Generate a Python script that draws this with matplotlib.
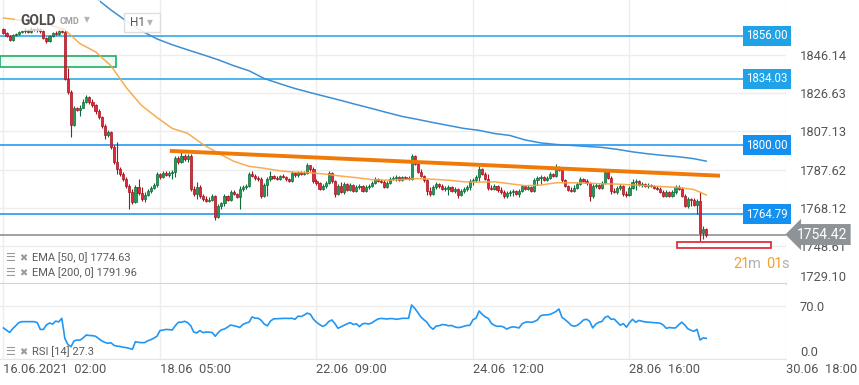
import numpy as np
import matplotlib
matplotlib.use('Agg')
import matplotlib.pyplot as plt
from matplotlib.patches import Rectangle

plt.rcParams['font.family'] = ['Roboto', 'DejaVu Sans']

# hourly GOLD candles, 16.06 02:00 -> 29.06
first_open = 1859.6
closes = [
    1857.6, 1856.1, 1854.0, 1856.6, 1857.1, 1858.1, 1858.6, 1859.1, 1858.1, 1859.6,
    1859.1, 1859.6, 1858.6, 1855.1, 1853.5, 1856.1, 1857.6, 1857.1, 1858.6, 1858.1,
    1834.2, 1827.5, 1810.7, 1819.4, 1817.9, 1819.4, 1822.4, 1825.0, 1822.4, 1820.9,
    1817.4, 1814.3, 1809.7, 1805.1, 1806.7, 1799.0, 1791.4, 1787.8, 1785.3, 1782.7,
    1779.1, 1776.1, 1771.0, 1778.6, 1775.6, 1772.5, 1774.6, 1776.6, 1778.1, 1779.7,
    1785.3, 1783.7, 1785.8, 1784.8, 1785.8, 1786.3, 1793.4, 1791.4, 1794.4, 1792.9,
    1794.4, 1777.6, 1775.1, 1778.6, 1774.1, 1772.5, 1771.5, 1772.0, 1774.1, 1763.4,
    1769.0, 1770.5, 1774.1, 1772.0, 1776.1, 1775.1, 1773.5, 1777.6, 1778.6, 1779.1,
    1785.3, 1784.3, 1783.2, 1782.7, 1774.1, 1779.7, 1782.7, 1784.3, 1783.2, 1782.7,
    1784.3, 1783.7, 1782.7, 1781.7, 1785.8, 1784.8, 1786.3, 1785.3, 1785.8, 1789.8,
    1787.8, 1781.7, 1780.7, 1777.6, 1779.1, 1780.7, 1785.8, 1781.7, 1775.1, 1779.1,
    1776.1, 1780.2, 1777.1, 1779.7, 1776.6, 1778.6, 1779.1, 1776.6, 1778.6, 1779.1,
    1780.7, 1782.7, 1781.7, 1781.2, 1778.6, 1780.7, 1782.7, 1783.2, 1783.7, 1782.2,
    1783.7, 1783.2, 1782.7, 1794.4, 1790.4, 1786.3, 1784.3, 1782.2, 1776.6, 1775.1,
    1778.6, 1780.2, 1779.1, 1777.6, 1777.6, 1778.6, 1776.6, 1777.6, 1774.6, 1776.6,
    1777.6, 1778.6, 1781.7, 1782.2, 1783.7, 1787.8, 1785.3, 1782.7, 1778.1, 1777.6,
    1779.1, 1777.1, 1776.1, 1774.1, 1775.6, 1776.1, 1776.6, 1775.1, 1776.6, 1779.1,
    1777.6, 1778.6, 1776.6, 1782.2, 1783.2, 1783.7, 1782.2, 1783.2, 1785.3, 1784.3,
    1788.3, 1787.3, 1782.2, 1779.1, 1777.1, 1776.6, 1778.1, 1780.2, 1782.7, 1781.7,
    1780.7, 1774.1, 1779.1, 1779.7, 1778.1, 1780.7, 1786.3, 1783.2, 1776.6, 1776.1,
    1778.1, 1779.1, 1775.1, 1774.6, 1778.1, 1781.2, 1781.7, 1779.7, 1780.2, 1779.1,
    1779.7, 1779.1, 1778.1, 1777.6, 1776.1, 1774.1, 1776.1, 1774.1, 1776.1, 1778.6,
    1777.6, 1774.1, 1769.0, 1772.5, 1772.0, 1769.5, 1771.5, 1755.2, 1757.2, 1754.42,
]
highs = [
    1860.2, 1858.1, 1856.6, 1857.1, 1857.6, 1858.6, 1859.1, 1860.2, 1859.6, 1860.7,
    1860.2, 1860.7, 1860.2, 1859.6, 1855.6, 1856.6, 1858.1, 1858.6, 1859.6, 1860.2,
    1859.1, 1839.8, 1828.6, 1820.4, 1819.9, 1820.9, 1823.5, 1826.0, 1825.5, 1823.5,
    1821.4, 1818.4, 1814.8, 1811.2, 1807.7, 1807.2, 1800.0, 1801.6, 1788.8, 1786.3,
    1783.7, 1780.2, 1777.6, 1779.7, 1782.7, 1778.6, 1776.1, 1777.6, 1779.1, 1780.7,
    1786.3, 1785.8, 1786.8, 1786.8, 1786.8, 1787.3, 1794.4, 1794.4, 1796.5, 1795.5,
    1795.5, 1795.5, 1779.1, 1781.2, 1779.7, 1775.1, 1774.1, 1773.5, 1775.1, 1774.6,
    1770.0, 1771.0, 1775.1, 1774.6, 1777.1, 1777.1, 1775.6, 1779.1, 1779.7, 1780.2,
    1786.3, 1786.8, 1785.3, 1784.3, 1783.7, 1780.7, 1783.7, 1786.8, 1784.8, 1784.3,
    1784.8, 1785.3, 1784.3, 1783.2, 1786.8, 1786.3, 1786.8, 1786.8, 1786.8, 1790.9,
    1789.8, 1788.8, 1782.7, 1781.2, 1780.2, 1781.7, 1786.8, 1786.3, 1782.2, 1780.2,
    1781.2, 1781.2, 1780.7, 1780.7, 1780.2, 1779.7, 1780.2, 1779.7, 1779.7, 1780.2,
    1781.7, 1783.7, 1783.2, 1782.7, 1782.2, 1781.7, 1783.7, 1784.3, 1784.8, 1784.3,
    1784.3, 1784.3, 1784.3, 1795.5, 1794.9, 1791.4, 1787.8, 1784.8, 1782.7, 1778.6,
    1779.7, 1781.2, 1780.7, 1780.2, 1779.1, 1779.7, 1779.1, 1778.6, 1778.1, 1777.6,
    1778.6, 1779.7, 1782.7, 1783.2, 1784.8, 1789.3, 1788.3, 1786.3, 1785.3, 1779.7,
    1780.2, 1779.7, 1778.6, 1777.1, 1776.6, 1777.1, 1777.6, 1777.1, 1777.6, 1779.7,
    1779.7, 1779.7, 1779.1, 1783.2, 1784.3, 1784.8, 1784.3, 1784.3, 1786.3, 1785.8,
    1790.4, 1789.3, 1788.3, 1782.7, 1779.7, 1778.6, 1779.7, 1781.2, 1783.7, 1783.2,
    1782.7, 1781.2, 1780.2, 1780.7, 1780.2, 1781.7, 1787.3, 1786.8, 1784.3, 1778.1,
    1779.1, 1780.2, 1779.7, 1776.6, 1779.1, 1782.7, 1782.7, 1782.2, 1781.2, 1780.7,
    1780.7, 1780.2, 1779.7, 1779.1, 1778.6, 1777.1, 1777.1, 1776.6, 1777.1, 1779.7,
    1779.7, 1778.6, 1775.1, 1773.5, 1773.0, 1773.0, 1772.5, 1776.1, 1758.8, 1757.8,
]
lows = [
    1857.1, 1855.6, 1853.5, 1853.5, 1856.1, 1856.6, 1857.6, 1857.6, 1857.6, 1857.6,
    1858.6, 1858.1, 1857.6, 1854.5, 1852.5, 1853.0, 1855.6, 1856.6, 1856.6, 1857.6,
    1833.7, 1826.5, 1804.1, 1809.7, 1817.4, 1814.8, 1818.9, 1821.9, 1821.4, 1819.9,
    1816.3, 1813.3, 1808.7, 1803.1, 1804.1, 1798.0, 1790.4, 1785.3, 1784.3, 1781.7,
    1778.1, 1767.4, 1770.0, 1770.5, 1774.6, 1771.5, 1771.0, 1774.1, 1775.6, 1777.6,
    1778.6, 1782.7, 1783.2, 1784.3, 1783.7, 1782.7, 1783.7, 1790.4, 1790.9, 1791.9,
    1791.4, 1776.6, 1774.1, 1772.5, 1773.0, 1771.5, 1771.0, 1771.0, 1771.5, 1761.8,
    1762.9, 1767.4, 1769.0, 1771.5, 1771.5, 1774.6, 1773.0, 1767.4, 1776.6, 1777.6,
    1778.6, 1783.7, 1782.2, 1781.7, 1773.0, 1773.5, 1774.1, 1781.7, 1782.7, 1782.2,
    1782.2, 1783.2, 1781.7, 1781.2, 1781.2, 1783.7, 1783.7, 1784.8, 1784.8, 1785.3,
    1786.8, 1780.7, 1779.7, 1777.1, 1777.1, 1778.1, 1780.2, 1780.7, 1773.5, 1774.6,
    1775.6, 1775.1, 1776.6, 1776.6, 1776.1, 1776.1, 1777.6, 1776.1, 1776.1, 1777.6,
    1778.6, 1780.2, 1781.2, 1780.7, 1778.1, 1778.1, 1780.2, 1782.2, 1781.7, 1781.7,
    1781.7, 1782.7, 1782.2, 1782.2, 1789.8, 1785.8, 1783.7, 1781.2, 1774.6, 1774.1,
    1774.6, 1777.6, 1778.1, 1777.1, 1776.6, 1774.6, 1776.1, 1775.6, 1773.0, 1774.1,
    1775.6, 1776.6, 1777.1, 1779.7, 1781.2, 1781.7, 1784.8, 1782.2, 1777.1, 1777.1,
    1777.1, 1776.1, 1775.1, 1773.0, 1773.0, 1774.1, 1774.1, 1774.6, 1773.5, 1776.1,
    1777.1, 1777.1, 1776.1, 1776.1, 1779.7, 1780.2, 1781.7, 1781.7, 1782.7, 1783.7,
    1783.7, 1786.8, 1781.2, 1778.6, 1776.6, 1776.1, 1776.1, 1777.6, 1779.7, 1781.2,
    1779.7, 1771.5, 1773.0, 1778.1, 1777.6, 1777.6, 1780.2, 1782.7, 1775.1, 1775.6,
    1775.1, 1777.1, 1774.1, 1773.5, 1774.1, 1777.6, 1777.1, 1779.1, 1778.6, 1778.6,
    1778.1, 1778.6, 1777.6, 1777.1, 1775.6, 1773.5, 1773.5, 1773.5, 1773.5, 1775.1,
    1777.1, 1773.5, 1768.4, 1767.9, 1769.0, 1769.0, 1764.9, 1751.1, 1752.2, 1753.2,
]
rsi = [
    41, 38, 35, 40, 44, 48, 49.3, 49.3, 49.3, 49.3,
    49.3, 48, 39, 39, 45, 47.5, 46, 50, 49, 53.7,
    27, 19, 16.3, 24, 25, 25, 28, 31.7, 31, 30.8,
    30, 27, 24, 22, 20.7, 21.5, 18, 17, 16.5, 15.6,
    15, 14, 12.8, 22.9, 22, 21.6, 21.6, 24, 25.5, 27.5,
    30, 37.5, 38.3, 39, 38.8, 38.3, 44, 48.5, 48.5, 49.8,
    48, 44, 35.5, 34.5, 37.5, 34.8, 35.6, 35.4, 35, 30,
    35, 38.5, 39.6, 42, 44.8, 44, 43, 41.6, 45.5, 47.4,
    48.5, 55.5, 54, 53.7, 51, 46, 43.8, 50, 53, 53.2,
    53.4, 53.6, 53.7, 53.5, 53.8, 52.4, 56.6, 56, 58.1, 60.6,
    59, 52.5, 48.5, 45.5, 43, 45, 49.5, 51.5, 46.8, 40.5,
    42.5, 44.4, 46.5, 48, 45.5, 46.5, 42.7, 46.5, 47, 46.2,
    47.6, 50.3, 52.8, 53.6, 53.2, 52.8, 53.4, 53.2, 52.4, 53.1,
    53.7, 53.7, 53.7, 71.3, 67, 61.5, 55.5, 51.8, 48.5, 42.5,
    39.3, 43.5, 44, 45.5, 45, 43.9, 44.3, 42.5, 41.5, 41.8,
    43.2, 44.2, 44.5, 51.9, 54, 63.4, 59, 55.6, 53.5, 47,
    44.3, 43, 43.4, 42.2, 39.4, 41.5, 42.5, 41.9, 41, 46.5,
    48.5, 49, 48.3, 49.5, 51.5, 57, 58.1, 58.2, 58.8, 60.5,
    62.6, 66, 55, 52, 48.5, 44.5, 43.2, 44.5, 47.6, 51.5,
    52.5, 49.8, 41, 46, 48.5, 49.5, 55, 56.5, 52.4, 52.8,
    48.6, 44.5, 46.8, 42, 48, 52.4, 48.5, 50.9, 50, 49,
    48.6, 48.3, 48, 47.6, 47.3, 44.8, 40.5, 41.6, 41, 41,
    45, 48.6, 45, 39.9, 38, 36.5, 39.2, 25.1, 27.8, 27.3,
]

ema50_idx = list(range(0, 226, 5)) + [227, 229]
ema50 = [
    1865.2, 1864.2, 1863.2, 1861.7, 1859.1, 1852.0, 1847.9, 1840.8, 1829.6, 1820.4,
    1814.3, 1808.7, 1806.2, 1800.5, 1796.0, 1791.9, 1789.3, 1788.3, 1787.0, 1786.3,
    1786.0, 1785.3, 1784.3, 1783.5, 1782.5, 1782.2, 1782.5, 1783.0, 1782.7, 1782.2,
    1781.4, 1781.2, 1781.4, 1780.4, 1779.4, 1779.7, 1780.9, 1780.9, 1780.7, 1780.4,
    1780.2, 1779.8, 1779.4, 1778.9, 1778.5, 1777.4, 1776.1, 1774.63,
]
ema200_idx = list(range(30, 226, 5)) + [229]
ema200 = [
    1875.5, 1869.3, 1863.7, 1858.6, 1854.5, 1851.5, 1848.9, 1846.4, 1843.8, 1840.8,
    1838.2, 1834.2, 1831.6, 1829.1, 1827.0, 1825.0, 1823.0, 1820.9, 1818.9, 1816.8,
    1814.8, 1813.3, 1811.7, 1810.2, 1808.7, 1807.7, 1806.1, 1805.1, 1802.8, 1801.3,
    1800.5, 1800.0, 1799.5, 1799.0, 1798.0, 1796.7, 1795.7, 1794.9, 1794.2, 1793.2,
    1791.96,
]

levels = [1856.00, 1834.03, 1800.00, 1764.79]
last_price = 1754.42
price_ticks = [1846.14, 1826.63, 1807.13, 1787.62, 1768.12, 1748.61, 1729.10]
time_ticks = [0, 51, 102, 153, 204, 255]
time_labels = ['16.06.2021  02:00', '18.06  05:00', '22.06  09:00',
               '24.06  12:00', '28.06  16:00', '30.06  18:00']
trend_x = [54.2, 233.5]
trend_y = [1797.2, 1784.5]
green_zone = (-1.14, 36.6, 1840.3, 1845.9)
red_zone = (219.4, 250.1, 1747.6, 1750.6)

W, H = 859, 385
fig = plt.figure(figsize=(W / 100, H / 100), dpi=100)


def px_rect(x0, y0, x1, y1):
    return [x0 / W, 1 - y1 / H, (x1 - x0) / W, (y1 - y0) / H]


def ftext(x, y, s, **kw):
    kw.setdefault('va', 'center')
    return fig.text(x / W, 1 - y / H, s, **kw)


ax = fig.add_axes(px_rect(0, 0, 786, 284))
ax_rsi = fig.add_axes(px_rect(0, 284, 786, 359))
xlim = (-1.14, 254.97)

# ---- price panel
ax.set_xlim(*xlim)
ax.set_ylim(1729.7, 1874.4)
ax.set_xticks(time_ticks)
ax.yaxis.tick_right()
ax.set_yticks(price_ticks)
ax.set_yticklabels(['{:.2f}'.format(t) for t in price_ticks])
ax.tick_params(axis='x', length=0, labelbottom=False)
ax.tick_params(axis='y', length=0, pad=10, labelsize=9.3, labelcolor='#555555')
ax.get_yticklabels()[-1].set_va('bottom')
ax.grid(True, color='#ededed', lw=1)
ax.set_axisbelow(True)
for s in ['top', 'left', 'right']:
    ax.spines[s].set_visible(False)
ax.spines['bottom'].set_color('#d2d2d2')
ax.spines['bottom'].set_linewidth(1.5)

x0, x1, y0, y1 = green_zone
ax.add_patch(Rectangle((x0, y0), x1 - x0, y1 - y0, fc='#f2fbf6', ec='#1fae6b',
                       lw=1.2, zorder=2))

level_colors = ['#1fa3e6', '#1fa3e6', '#1490f0', '#1490f0']
ax.hlines(levels, xlim[0], 241.6, colors=level_colors, lw=1.1, zorder=2)
for lvl, col in zip(levels, level_colors):
    ax.text(248.8, lvl, '{:.2f}'.format(lvl), ha='center', va='center',
            color='white', fontsize=8.3, zorder=8, clip_on=False,
            bbox=dict(boxstyle='square,pad=0.3', fc=col, ec='none'))

ax.axhline(last_price, color='#8d9297', lw=1.2, zorder=2)

# candles
c = np.array(closes)
o = np.r_[first_open, c[:-1]]
h = np.maximum(np.array(highs), np.maximum(o, c))
lo = np.minimum(np.array(lows), np.minimum(o, c))
idx = np.arange(len(c))
up = c >= o
face = np.where(up, '#1f9d58', '#e0283c')
edge = np.where(up, '#0f6b38', '#a3141f')
ax.vlines(idx, lo, h, colors=edge, lw=0.8, zorder=3)
ax.bar(idx, np.maximum(np.abs(c - o), 0.45), bottom=np.minimum(o, c), width=0.7,
       color=face, edgecolor=edge, linewidth=0.5, zorder=4)

ax.plot(ema200_idx, ema200, color='#3b8fd6', lw=1.1, zorder=5)
ax.plot(ema50_idx, ema50, color='#f7a43f', lw=1.1, alpha=0.9, zorder=5)
ax.plot(trend_x, trend_y, color='#f07a08', lw=2.8, solid_capstyle='butt', zorder=6)

x0, x1, y0, y1 = red_zone
ax.add_patch(Rectangle((x0, y0), x1 - x0, y1 - y0, fc='white', ec='#d8232e',
                       lw=1.2, zorder=6, clip_on=False))

ax.text(822 / 786, last_price, '{:.2f}'.format(last_price),
        transform=ax.get_yaxis_transform(), ha='center', va='center',
        color='white', fontsize=10, zorder=9, clip_on=False,
        bbox=dict(boxstyle='larrow,pad=0.25', fc='#8e9398', ec='none'))

# ---- RSI panel
ax_rsi.plot(np.arange(len(rsi)), rsi, color='#2196f3', lw=1.2, zorder=3)
ax_rsi.set_xlim(*xlim)
ax_rsi.set_ylim(0, 99)
ax_rsi.set_xticks(time_ticks)
ax_rsi.set_xticklabels(time_labels, ha='left')
ax_rsi.yaxis.tick_right()
ax_rsi.set_yticks([0, 70])
ax_rsi.set_yticklabels(['0.0', '70.0'])
ax_rsi.get_yticklabels()[0].set_va('bottom')
ax_rsi.tick_params(axis='x', length=0, pad=3, labelsize=9.3, labelcolor='#555555')
ax_rsi.tick_params(axis='y', length=0, pad=10, labelsize=9.3, labelcolor='#555555')
ax_rsi.grid(True, color='#ededed', lw=1)
ax_rsi.set_axisbelow(True)
for s in ['top', 'left', 'right']:
    ax_rsi.spines[s].set_visible(False)
ax_rsi.spines['bottom'].set_color('#e6e6e6')

# ---- header and overlays
fig.add_artist(Rectangle((15 / W, 1 - 31 / H), 85 / W, 31 / H, transform=fig.transFigure,
                         fc='white', ec='none', alpha=0.7, zorder=1))
fig.add_artist(Rectangle((124 / W, 1 - 32 / H), 36 / W, 19 / H, transform=fig.transFigure,
                         fc='white', ec='#dcdcdc', lw=1, alpha=0.9, zorder=1))
ftext(20, 21, 'GOLD', fontsize=10, fontweight='bold', color='#4d4d4d')
ftext(60, 22, 'CMD', fontsize=6.5, fontweight='bold', color='#a0a0a0')
ftext(84, 20, '▼', fontsize=5.5, color='#b5b5b5', family='DejaVu Sans')
ftext(130, 23, 'H1', fontsize=8.5, color='#555555')
ftext(147, 23, '▼', fontsize=5.5, color='#b5b5b5', family='DejaVu Sans')

legend_rows = [(258, 'EMA [50, 0] 1774.63'), (273, 'EMA [200, 0] 1791.96'),
               (352, 'RSI [14] 27.3')]
for y, label in legend_rows:
    ftext(5, y, '☰', fontsize=8, color='#9a9a9a', family='DejaVu Sans')
    ftext(19, y, '✖', fontsize=7, color='#9a9a9a', family='DejaVu Sans')
    ftext(32, y, label, fontsize=8, color='#5a5a5a')

# countdown
ftext(733, 264, '21', fontsize=10.5, color='#f5a02c')
ftext(748, 264, 'm', fontsize=10.5, color='#b0b0b0')
ftext(766, 264, '01', fontsize=10.5, color='#f5a02c')
ftext(781, 264, 's', fontsize=10.5, color='#b0b0b0')

fig.savefig('out.png', dpi=100, facecolor='white')
